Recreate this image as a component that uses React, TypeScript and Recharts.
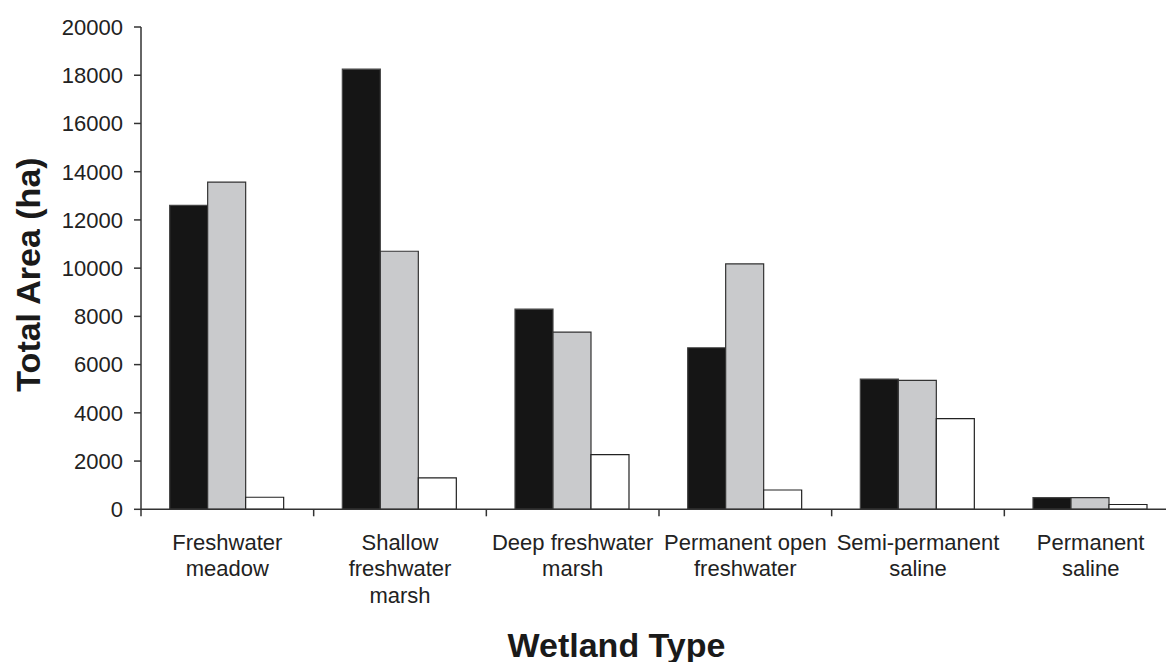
import React from "react";
import { BarChart, Bar, XAxis, YAxis, Label } from "recharts";

const categories = [
  "Freshwater meadow",
  "Shallow freshwater marsh",
  "Deep freshwater marsh",
  "Permanent open freshwater",
  "Semi-permanent saline",
  "Permanent saline",
];
const categoryLines = [
  ["Freshwater", "meadow"],
  ["Shallow", "freshwater", "marsh"],
  ["Deep freshwater", "marsh"],
  ["Permanent open", "freshwater"],
  ["Semi-permanent", "saline"],
  ["Permanent", "saline"],
];
const seriesBlack = [12600, 18250, 8300, 6700, 5400, 480];
const seriesGray = [13570, 10700, 7350, 10180, 5350, 480];
const seriesWhite = [500, 1300, 2270, 800, 3760, 200];
const yTicks = [0, 2000, 4000, 6000, 8000, 10000, 12000, 14000, 16000, 18000, 20000];

const data = categories.map((c, i) => ({
  name: c,
  a: seriesBlack[i],
  b: seriesGray[i],
  c: seriesWhite[i],
}));

const FONT = "'Liberation Sans', Arial, Helvetica, sans-serif";
const PLOT_LEFT = 141;
const PLOT_RIGHT = 1177;
const BAND = (PLOT_RIGHT - PLOT_LEFT) / categories.length;

const XTick = (props: any) => {
  const { x, y, index } = props;
  const lines = categoryLines[index] || [];
  return (
    <g>
      <line x1={x - BAND / 2} x2={x - BAND / 2} y1={y} y2={y + 7} stroke="#333" strokeWidth={1.5} />
      {index === categories.length - 1 && (
        <line x1={x + BAND / 2} x2={x + BAND / 2} y1={y} y2={y + 7} stroke="#333" strokeWidth={1.5} />
      )}
      {lines.map((l, i) => (
        <text
          key={i}
          x={x}
          y={y + 40.5 + i * 26.5}
          textAnchor="middle"
          fontFamily={FONT}
          fontSize={22}
          fill="#222"
        >
          {l}
        </text>
      ))}
    </g>
  );
};

const YLabel = (props: any) => {
  const vb = props.viewBox || { x: 0, y: 27, width: 141, height: 482 };
  const cx = vb.x + 40;
  const cy = 274.5;
  return (
    <text
      x={cx}
      y={cy}
      transform={`rotate(-90, ${cx}, ${cy})`}
      textAnchor="middle"
      fontFamily={FONT}
      fontWeight="bold"
      fontSize={34}
      fill="#1a1a1a"
    >
      Total Area (ha)
    </text>
  );
};

const XLabel = () => (
  <text
    x={616.5}
    y={656.5}
    textAnchor="middle"
    fontFamily={FONT}
    fontWeight="bold"
    fontSize={34}
    fill="#1a1a1a"
  >
    Wetland Type
  </text>
);

export default function App() {
  return (
    <div
      style={{
        position: "absolute",
        left: 0,
        top: 0,
        width: 1166,
        height: 662,
        overflow: "hidden",
        background: "#fff",
      }}
    >
      <BarChart
        width={PLOT_RIGHT}
        height={662}
        data={data}
        margin={{ top: 27, right: 0, bottom: 0, left: 0 }}
        barCategoryGap="16.6%"
        barGap={0}
      >
        <XAxis
          dataKey="name"
          height={152.7}
          interval={0}
          tickLine={false}
          tickSize={0}
          tickMargin={0}
          tick={<XTick />}
          axisLine={{ stroke: "#333", strokeWidth: 1.5 }}
        >
          <Label content={<XLabel />} />
        </XAxis>
        <YAxis
          width={PLOT_LEFT}
          domain={[0, 20000]}
          ticks={yTicks}
          interval={0}
          tickSize={7}
          tickMargin={11}
          tickLine={{ stroke: "#333", strokeWidth: 1.5 }}
          axisLine={{ stroke: "#333", strokeWidth: 1.5 }}
          tick={{ fontFamily: FONT, fontSize: 22, fill: "#222" }}
        >
          <Label content={<YLabel />} />
        </YAxis>
        <Bar dataKey="a" fill="#151515" stroke="#444" strokeWidth={1.2} isAnimationActive={false} />
        <Bar dataKey="b" fill="#c9cacc" stroke="#333" strokeWidth={1.2} isAnimationActive={false} />
        <Bar dataKey="c" fill="#ffffff" stroke="#222" strokeWidth={1.2} isAnimationActive={false} />
      </BarChart>
    </div>
  );
}
